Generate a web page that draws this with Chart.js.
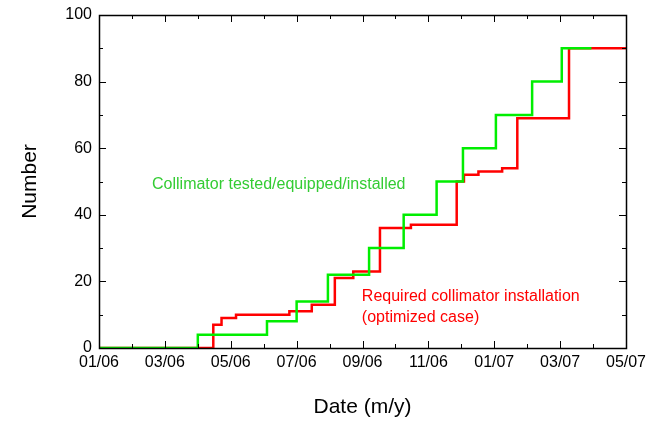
<!DOCTYPE html>
<html>
<head>
<meta charset="utf-8">
<script src="https://cdn.jsdelivr.net/npm/chart.js@4"></script>
<style>
  html, body { margin: 0; padding: 0; background: #fff; }
  #wrap { width: 646px; height: 421px; }
</style>
</head>
<body>
<div id="wrap"><canvas id="collimatorChart"></canvas></div>
<script>
// months counted from 01/06 (0) to 05/07 (16)
const monthLabels = ['01/06', '03/06', '05/06', '07/06', '09/06', '11/06', '01/07', '03/07', '05/07'];

// tested/equipped/installed (step points: month of step, new count)
const testedMonths = [0, 3.0, 5.1, 6.0, 6.95, 8.2, 9.25, 10.25, 11.05, 12.05, 13.15, 14.05, 14.95];
const testedCounts = [0, 4, 8, 14, 22, 30, 40, 50, 60, 70, 80, 90, 90];

// required installation (optimized case)
const requiredMonths = [0, 3.47, 3.72, 4.16, 5.78, 6.46, 7.16, 7.72, 8.53, 9.47, 10.86, 11.08, 11.52, 12.24, 12.7, 14.27, 16];
const requiredCounts = [0, 7, 9, 10, 11, 13, 21, 23, 36, 37, 50, 52, 53, 54, 69, 90, 90];

const font = 'Liberation Sans, Arial, Helvetica, sans-serif';

const toPoints = (xs, ys) => xs.map((m, i) => ({ x: m, y: ys[i] }));

// frame with inward ticks on all four sides, plus the two text labels
const frameTicks = {
    id: 'frameTicks',
    afterDatasetsDraw(chart) {
        const { ctx, chartArea: a, scales: { x, y } } = chart;
        ctx.save();
        ctx.strokeStyle = '#000';
        ctx.lineWidth = 1;
        ctx.beginPath();
        x.ticks.forEach(t => {
            const px = Math.round(x.getPixelForValue(t.value)) + 0.5;
            const len = t.value % 2 === 0 ? 7 : 4;
            ctx.moveTo(px, a.bottom); ctx.lineTo(px, a.bottom - len);
            ctx.moveTo(px, a.top); ctx.lineTo(px, a.top + len);
        });
        y.ticks.forEach(t => {
            const py = Math.round(y.getPixelForValue(t.value)) + 0.5;
            const len = t.value % 20 === 0 ? 7 : 4;
            ctx.moveTo(a.left, py); ctx.lineTo(a.left + len, py);
            ctx.moveTo(a.right, py); ctx.lineTo(a.right - len, py);
        });
        ctx.stroke();
        ctx.lineWidth = 1.5;
        ctx.strokeRect(Math.round(a.left) + 0.5, Math.round(a.top) + 0.5,
            Math.round(a.right - a.left), Math.round(a.bottom - a.top));

        ctx.font = '16px ' + font;
        ctx.textBaseline = 'middle';
        ctx.textAlign = 'left';
        ctx.fillStyle = '#33cc33';
        ctx.fillText('Collimator tested/equipped/installed', x.getPixelForValue(1.61), y.getPixelForValue(49));
        ctx.fillStyle = '#ff0000';
        ctx.fillText('Required collimator installation', x.getPixelForValue(7.98), y.getPixelForValue(15.3));
        ctx.fillText('(optimized case)', x.getPixelForValue(7.98), y.getPixelForValue(9));
        ctx.restore();
    }
};

new Chart(document.getElementById('collimatorChart'), {
    type: 'line',
    data: {
        datasets: [
            {
                label: 'Collimator tested/equipped/installed',
                data: toPoints(testedMonths, testedCounts),
                borderColor: '#00ee00',
                borderWidth: 2.5,
                stepped: true,
                pointRadius: 0,
                fill: false
            },
            {
                label: 'Required collimator installation (optimized case)',
                data: toPoints(requiredMonths, requiredCounts),
                borderColor: '#ff0000',
                borderWidth: 2.5,
                stepped: true,
                pointRadius: 0,
                fill: false
            }
        ]
    },
    options: {
        responsive: true,
        maintainAspectRatio: false,
        animation: false,
        layout: { padding: { top: 15, right: 20, left: 0, bottom: 0 } },
        scales: {
            x: {
                type: 'linear',
                min: 0,
                max: 16,
                grid: { display: false, drawTicks: false },
                border: { display: false },
                ticks: {
                    stepSize: 1,
                    autoSkip: false,
                    maxRotation: 0,
                    padding: 5,
                    color: '#000',
                    font: { family: font, size: 16 },
                    callback: v => (v % 2 === 0 ? monthLabels[v / 2] : '')
                },
                title: {
                    display: true,
                    text: 'Date (m/y)',
                    color: '#000',
                    font: { family: font, size: 21 },
                    padding: { top: 0, bottom: 1 }
                },
                afterFit: s => {
                    s.height = 73;
                    s.paddingLeft = 0;
                    s.paddingRight = 0;
                }
            },
            y: {
                min: 0,
                max: 100,
                grid: { display: false, drawTicks: false },
                border: { display: false },
                ticks: {
                    stepSize: 5,
                    padding: 7,
                    color: '#000',
                    font: { family: font, size: 16 },
                    callback: v => (v % 20 === 0 ? v : '')
                },
                title: {
                    display: true,
                    text: 'Number',
                    color: '#000',
                    font: { family: font, size: 21 },
                    padding: { top: 18, bottom: 0 }
                },
                afterFit: s => {
                    s.width = 99;
                    s.paddingTop = 0;
                    s.paddingBottom = 0;
                }
            }
        },
        plugins: {
            legend: { display: false },
            tooltip: { enabled: false }
        }
    },
    plugins: [frameTicks]
});
</script>
</body>
</html>
